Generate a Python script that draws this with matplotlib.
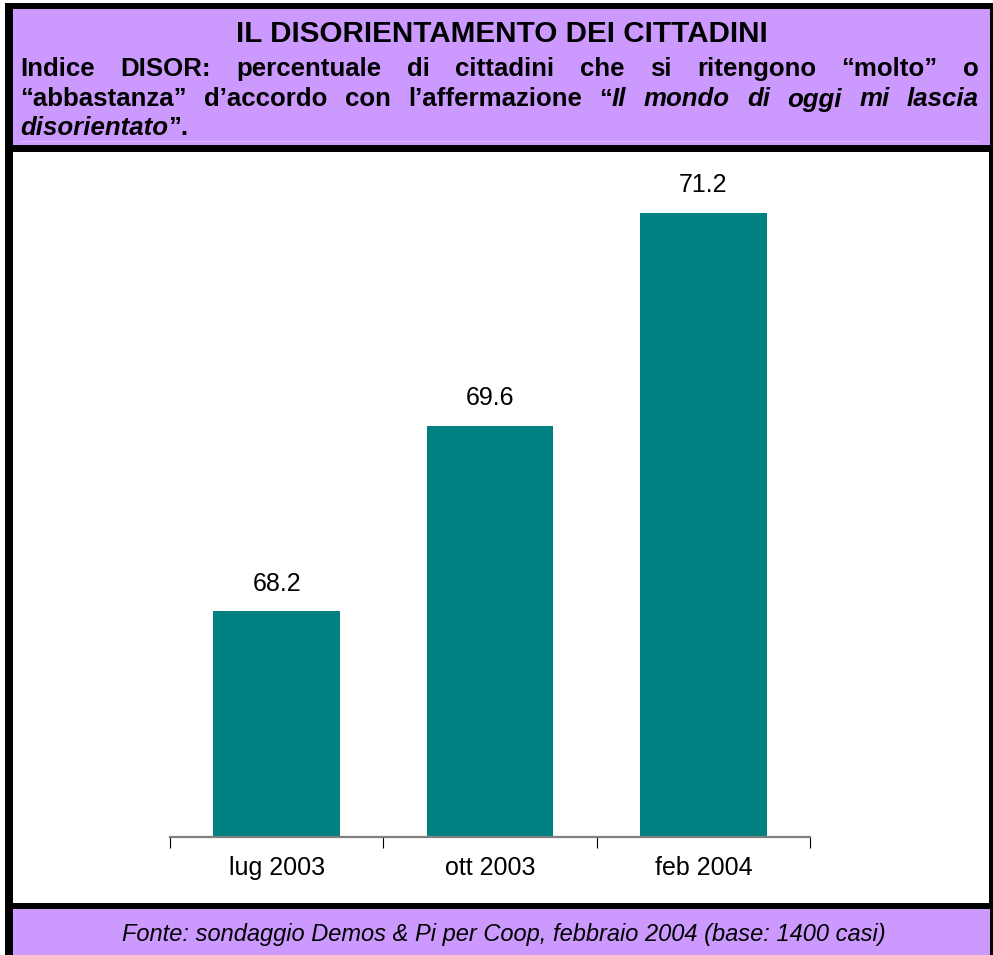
import matplotlib
matplotlib.use("Agg")
import matplotlib.pyplot as plt
from matplotlib.patches import Rectangle
from matplotlib.lines import Line2D

# ---------------- data ----------------
categories = ["lug 2003", "ott 2003", "feb 2004"]
values = [68.2, 69.6, 71.2]
value_labels = ["68.2", "69.6", "71.2"]

title = "IL DISORIENTAMENTO DEI CITTADINI"
# subtitle lines: each word is a list of (text, italic) segments
subtitle_lines = [
    [[("Indice", False)], [("DISOR:", False)], [("percentuale", False)], [("di", False)],
     [("cittadini", False)], [("che", False)], [("si", False)], [("ritengono", False)],
     [("\u201cmolto\u201d", False)], [("o", False)]],
    [[("\u201cabbastanza\u201d", False)], [("d\u2019accordo", False)], [("con", False)],
     [("l\u2019affermazione", False)], [("\u201c", False), ("Il", True)], [("mondo", True)],
     [("di", True)], [("oggi", True)], [("mi", True)], [("lascia", True)]],
    [[("disorientato", True), ("\u201d.", False)]],
]
footer = "Fonte: sondaggio Demos & Pi per Coop, febbraio 2004 (base: 1400 casi)"

# ---------------- style ----------------
W, H = 993, 955
PURPLE = "#CC99FF"
TEAL = "#008080"
FONT = "Liberation Sans"
plt.rcParams["font.family"] = [FONT, "DejaVu Sans"]

fig = plt.figure(figsize=(W / 100, H / 100), dpi=100)
fig.patch.set_facecolor("white")


def fx(px):
    return px / W


def fy(py):
    return 1 - py / H


def rect(x0, y0, x1, y1, color, z=0):
    fig.add_artist(Rectangle((fx(x0), fy(y1)), fx(x1) - fx(x0), fy(y0) - fy(y1),
                             transform=fig.transFigure, facecolor=color,
                             edgecolor="none", zorder=z))


# frame
rect(5, 3, 993, 955, "black", 0)
rect(13, 9, 990, 145, PURPLE, 1)
rect(13, 152, 989, 903, "white", 1)
rect(13, 909, 990, 955, PURPLE, 1)
fig.add_artist(Line2D([fx(20), fx(978)], [fy(141.5), fy(141.5)], transform=fig.transFigure,
                      color="#DDBBFF", lw=0.8, zorder=2))

# title
fig.text(fx(502), fy(42.5), title, ha="center", va="baseline", fontsize=21.3,
         fontweight="bold", color="black", zorder=5)

# justified subtitle
renderer = fig.canvas.get_renderer()
SUB_FS = 18.6
left, right = 20, 979
baselines = [76, 106.5, 135]


def seg_width(txt, italic):
    t = fig.text(0, 0, txt, fontsize=SUB_FS, fontweight="bold",
                 fontstyle="italic" if italic else "normal")
    w = t.get_window_extent(renderer).width
    t.remove()
    return w


space_w = seg_width("a b", False) - seg_width("ab", False)
for li, (line, by) in enumerate(zip(subtitle_lines, baselines)):
    widths = [[seg_width(s, it) for s, it in word] for word in line]
    totals = [sum(w) for w in widths]
    last = li == len(subtitle_lines) - 1
    if last or len(line) == 1:
        gap = space_w
    else:
        gap = (right - left - sum(totals)) / (len(line) - 1)
    x = left
    for word, ws in zip(line, widths):
        for (s, it), w in zip(word, ws):
            fig.text(fx(x), fy(by), s, ha="left", va="baseline", fontsize=SUB_FS,
                     fontweight="bold", fontstyle="italic" if it else "normal",
                     color="black", zorder=5)
            x += w
        x += gap

# footer
fig.text(fx(503.5), fy(941), footer, ha="center", va="baseline", fontsize=17,
         fontstyle="italic", color="black", zorder=5)

# ---------------- chart ----------------
ax_l, ax_r, ax_b, ax_t = 170, 810, 837, 160
ax = fig.add_axes([fx(ax_l), fy(ax_b), fx(ax_r) - fx(ax_l), fy(ax_t) - fy(ax_b)], zorder=3)
ax.patch.set_alpha(0)
pos = list(range(len(categories)))
ax.bar(pos, values, width=0.595, color=TEAL, edgecolor="none", zorder=2)
ax.set_xlim(-0.5, len(categories) - 0.5)
ax.set_ylim(66.5, 66.5 + (ax_b - ax_t) / 132.7)

for p, v, lab in zip(pos, values, value_labels):
    ax.annotate(lab, xy=(p, v), xytext=(0, 15), textcoords="offset points",
                ha="center", va="baseline", fontsize=18, color="black")

for s in ["top", "right", "left"]:
    ax.spines[s].set_visible(False)
ax.spines["bottom"].set_color("#808080")
ax.spines["bottom"].set_linewidth(1.6)
ax.spines["bottom"].set_zorder(3)
ax.set_yticks([])
ax.set_xticks(pos)
ax.set_xticklabels(categories, fontsize=18)
ax.tick_params(axis="x", which="major", length=0, pad=14)
ax.set_xticks([p - 0.5 for p in pos] + [pos[-1] + 0.5], minor=True)
ax.tick_params(axis="x", which="minor", length=8, width=0.8, color="black", direction="out")

fig.savefig("out.png", dpi=100)
